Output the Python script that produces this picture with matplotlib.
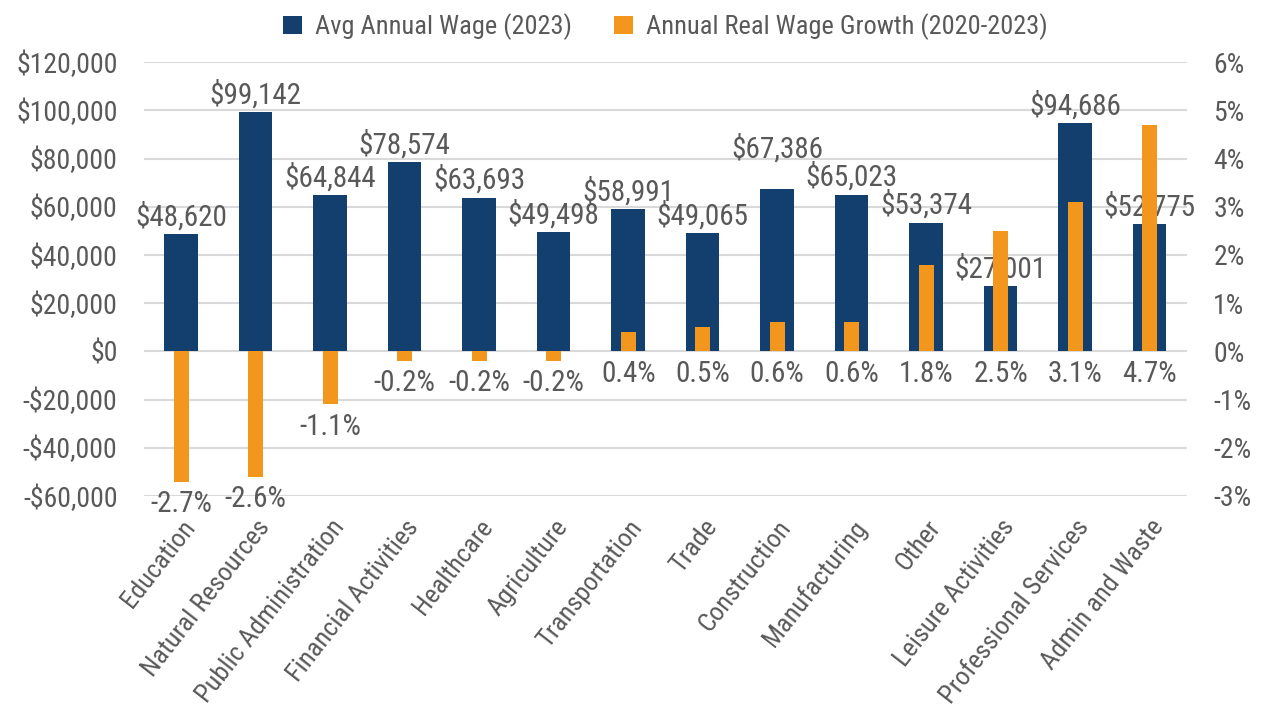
import matplotlib.pyplot as plt
import numpy as np
import matplotlib
from matplotlib import font_manager
from matplotlib.ticker import FuncFormatter

# look for a narrow font, Excel chart uses a condensed face
fams = {}
for f in font_manager.fontManager.ttflist:
    fams.setdefault(f.name, set()).add(str(f.stretch))
family = 'DejaVu Sans'
stretch = 'normal'
for name in ['Liberation Sans Narrow', 'Roboto Condensed', 'Open Sans Condensed', 'DejaVu Sans Condensed']:
    if name in fams:
        family = name
        break
else:
    for name in ['Liberation Sans', 'Roboto', 'Open Sans', 'DejaVu Sans']:
        if name in fams and any(s in ('condensed', 'semi-condensed', 'extra-condensed', '75', '87.5')
                                for s in fams[name]):
            family = name
            stretch = 'condensed'
            break

matplotlib.rcParams['font.family'] = [family, 'DejaVu Sans']
matplotlib.rcParams['font.stretch'] = stretch

categories = ['Education', 'Natural Resources', 'Public Administration', 'Financial Activities',
              'Healthcare', 'Agriculture', 'Transportation', 'Trade', 'Construction',
              'Manufacturing', 'Other', 'Leisure Activities', 'Professional Services', 'Admin and Waste']
wages = [48620, 99142, 64844, 78574, 63693, 49498, 58991, 49065, 67386, 65023, 53374, 27001, 94686, 52775]
growth = [-2.7, -2.6, -1.1, -0.2, -0.2, -0.2, 0.4, 0.5, 0.6, 0.6, 1.8, 2.5, 3.1, 4.7]

navy = '#133F6E'
orange = '#F2961E'
grey = '#595959'

narrow = family != 'DejaVu Sans' or stretch != 'normal'
fs_tick = 20 if narrow else 16
fs_x = 19 if narrow else 15
fs_lab = 21 if narrow else 17
fs_leg = 19 if narrow else 15

fig = plt.figure(figsize=(12.65, 7.06), dpi=100)
ax = fig.add_axes([0.1138, 0.2975, 0.8245, 0.6145])
ax2 = ax.twinx()

X = np.arange(len(categories))
ax.set_ylim(-60000, 120000)
ax2.set_ylim(-3, 6)
ax.set_xlim(-0.5, len(categories) - 0.5)

ax.set_yticks(np.arange(-60000, 120001, 20000))
ax2.set_yticks(np.arange(-3, 7, 1))
ax.yaxis.grid(True, color='#D9D9D9', linewidth=1.5)
ax.set_axisbelow(True)

ax.bar(X, wages, width=0.45, color=navy, zorder=2, label='Avg Annual Wage (2023)')
ax2.bar(X, growth, width=0.2, color=orange, zorder=3, label='Annual Real Wage Growth (2020-2023)')

ax.yaxis.set_major_formatter(FuncFormatter(lambda v, p: ('-$' if v < 0 else '$') + '{:,.0f}'.format(abs(v))))
ax2.yaxis.set_major_formatter(FuncFormatter(lambda v, p: '%d%%' % v))

for a in (ax, ax2):
    for s in a.spines.values():
        s.set_visible(False)
    a.tick_params(axis='both', length=0, labelsize=fs_tick, colors=grey, pad=19)

ax.set_xticks(X)
ax.set_xticklabels(categories, rotation=52, ha='right', rotation_mode='anchor', fontsize=fs_x)
ax.tick_params(axis='x', pad=14)

# Construction label sits higher in the original
nudge = {'Construction': 16}
for c, x, w in zip(categories, X, wages):
    ax.annotate('${:,}'.format(w), (x, w), xytext=(0, 2 + nudge.get(c, 0)), textcoords='offset points',
                ha='center', va='bottom', fontsize=fs_lab, color=grey)

for x, g in zip(X, growth):
    base = min(g, 0)
    ax2.annotate('%.1f%%' % g, (x, base), xytext=(0, -6), textcoords='offset points',
                 ha='center', va='top', fontsize=fs_lab, color=grey)

h1, l1 = ax.get_legend_handles_labels()
h2, l2 = ax2.get_legend_handles_labels()
fig.legend(h1 + h2, l1 + l2, loc='upper center', bbox_to_anchor=(0.526, 1.015), ncol=2,
           frameon=False, fontsize=fs_leg, labelcolor=grey, handlelength=0.7, handleheight=0.7,
           columnspacing=1.6, handletextpad=0.5)

fig.savefig('out.png', dpi=100, facecolor='white')
